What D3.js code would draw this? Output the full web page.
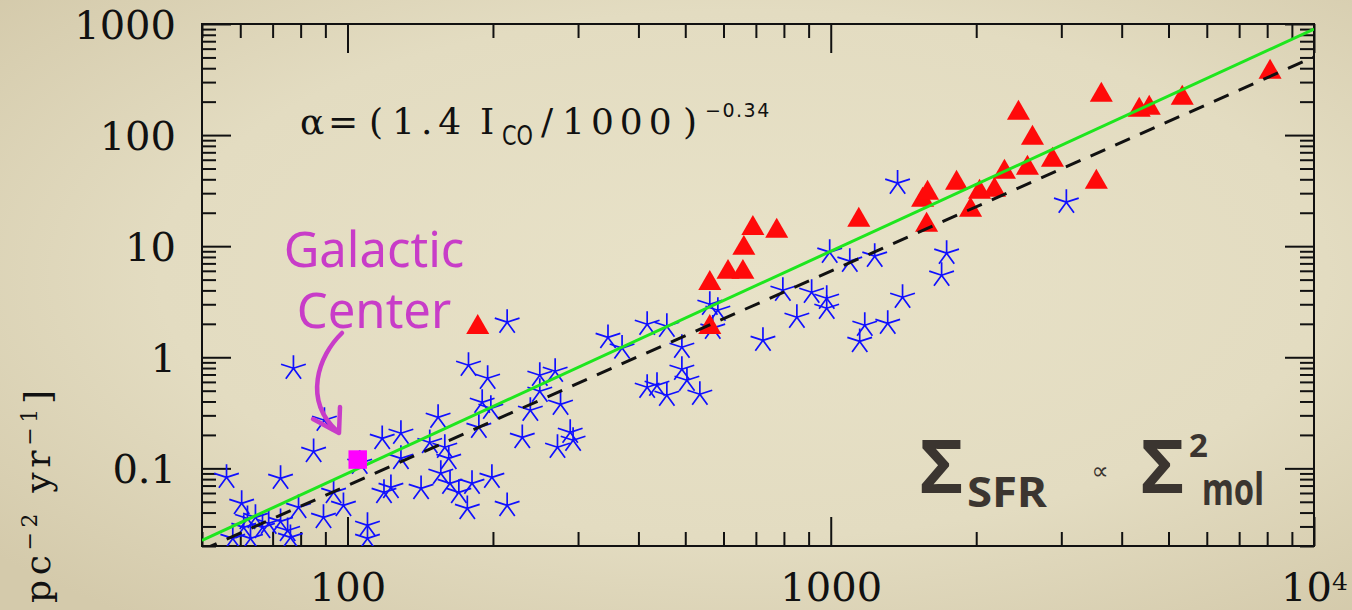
<!DOCTYPE html>
<html>
<head>
<meta charset="utf-8">
<script src="https://cdn.jsdelivr.net/npm/d3@7"></script>
<style>
  html, body { margin: 0; padding: 0; background: #e2dbbf; }
  svg { display: block; }
</style>
</head>
<body>
<svg id="chart" width="1352" height="610"></svg>
<script>
// Molecular gas surface density (x) and star-formation surface density (y)
// for the resolved-region sample (blue asterisks).
const starGas = [77.3, 89.6, 85.1, 56.2, 72.7, 60.4, 62.1, 64.5, 66.7, 68.7,
  72.7, 75.2, 63.0, 57.9, 79.2, 76.2, 61.0, 89.2, 93.6, 98.1,
  110, 110, 106, 118, 129, 129, 119, 123, 142, 154,
  148, 159, 162, 156, 163, 170, 177, 214, 181, 199,
  214, 178, 195, 190, 198, 187, 230, 250, 269, 250,
  239, 276, 272, 289, 293, 346, 370, 417, 458, 492,
  492, 417, 437, 458, 504, 536, 562, 584, 570, 796,
  913, 981, 981, 851, 724, 995, 1095, 1233, 1176, 1312,
  1148, 1408, 1375, 1696, 1737, 3073];
const starSfr = [0.796, 0.271, 0.142, 0.083, 0.0813, 0.0484, 0.0354, 0.0362, 0.0294, 0.032,
  0.0333, 0.0276, 0.0234, 0.0234, 0.0445, 0.0239, 0.0294, 0.0362, 0.0608, 0.0464,
  0.0307, 0.0234, 0.111, 0.186, 0.207, 0.123, 0.0608, 0.0674, 0.066, 0.288,
  0.171, 0.155, 0.123, 0.0902, 0.0733, 0.0608, 0.0436, 0.0464, 0.0733, 0.083,
  2.07, 0.847, 0.647, 0.393, 0.347, 0.234, 0.19, 0.688, 0.748, 0.494,
  0.333, 0.377, 0.155, 0.211, 0.179, 1.51, 1.21, 1.98, 1.9, 1.23,
  0.78, 0.537, 0.559, 0.455, 0.621, 0.464, 3.0, 2.65, 1.83, 4.01,
  3.85, 3.4, 2.76, 2.29, 1.42, 8.83, 7.33, 8.13, 1.94, 2.02,
  1.39, 3.47, 36.95, 5.48, 8.65, 24.9];

// Starburst / nuclear sample (red triangles).
const triGas = [186, 562, 562, 613, 658, 661, 690, 773, 1143, 1549,
  1586, 1579, 1821, 1947, 2032, 2182, 2288, 2553, 2446, 2615,
  2876, 3545, 3630, 4349, 4561, 5338, 8111];
const triSfr = [1.86, 4.64, 1.86, 5.83, 5.83, 9.59, 14.5, 13.65, 17.15, 25.96,
  30.0, 15.46, 36.95, 21.1, 30.65, 31.95, 46.4, 50.45, 157.8, 94.0,
  59.55, 37.7, 229.3, 168, 175.1, 215.4, 369.5];

// Galactic Center (magenta square).
const gcGas = [105];
const gcSfr = [0.12];

// Relations drawn across the panel, given by their end points.
const quadraticLine = [[50, 0.0225], [10000, 900]];   // Σ_SFR ∝ Σ_mol^2
const fitLine = [[50, 0.0184], [10000, 505]];         // best fit (dashed)

// Axis ticks and labels.
const xTickValues = [100, 1000, 10000];
const xTickLabels = ["100", "1000", "10^4"];
const yTickValues = [0.1, 1, 10, 100, 1000];
const yTickLabels = ["0.1", "1", "10", "100", "1000"];

const W = 1352, H = 610;
const P = { left: 202, right: 1314, top: 24, bottom: 546 };

const x = d3.scaleLog().domain([50, 10000]).range([P.left, P.right]);
const y = d3.scaleLog().domain([0.02, 1000]).range([P.bottom, P.top]);

const svg = d3.select("#chart");
const defs = svg.append("defs");

// paper-coloured background, slightly darker toward the edges
const grad = defs.append("radialGradient").attr("id", "paper")
  .attr("cx", "55%").attr("cy", "45%").attr("r", "72%");
grad.append("stop").attr("offset", "0%").attr("stop-color", "#e8e2c8");
grad.append("stop").attr("offset", "60%").attr("stop-color", "#e3dcc1");
grad.append("stop").attr("offset", "100%").attr("stop-color", "#d4caab");
svg.append("rect").attr("width", W).attr("height", H).attr("fill", "url(#paper)");

defs.append("clipPath").attr("id", "plotClip")
  .append("rect")
  .attr("x", P.left).attr("y", P.top)
  .attr("width", P.right - P.left).attr("height", P.bottom - P.top);

// ---- axes: inward ticks on all four sides ----
const isDecade = v => Math.abs(Math.log10(v) - Math.round(Math.log10(v))) < 1e-9;
const xMinor = x.ticks().filter(v => !isDecade(v));
const yMinor = y.ticks().filter(v => !isDecade(v));
const xMajor = x.ticks().filter(isDecade);
const yMajor = y.ticks().filter(isDecade);

function addAxis(gen, transform) {
  const g = svg.append("g").attr("transform", transform).call(gen);
  g.select(".domain").remove();
  g.selectAll(".tick line").attr("stroke", "#111").attr("stroke-width", 2);
  return g;
}

const MINOR = 14, MAJOR = 29;
const none = () => "";

// bottom
addAxis(d3.axisBottom(x).tickValues(xMinor).tickSize(-MINOR).tickFormat(none), `translate(0,${P.bottom})`);
const xAxisG = addAxis(
  d3.axisBottom(x).tickValues(xTickValues).tickSize(-MAJOR).tickPadding(27)
    .tickFormat((d, i) => xTickLabels[i]),
  `translate(0,${P.bottom})`);
// top
addAxis(d3.axisTop(x).tickValues(xMinor).tickSize(-MINOR).tickFormat(none), `translate(0,${P.top})`);
addAxis(d3.axisTop(x).tickValues(xMajor).tickSize(-MAJOR).tickFormat(none), `translate(0,${P.top})`);
// left
addAxis(d3.axisLeft(y).tickValues(yMinor).tickSize(-MINOR).tickFormat(none), `translate(${P.left},0)`);
const yAxisG = addAxis(
  d3.axisLeft(y).tickValues(yTickValues).tickSize(-MAJOR).tickPadding(26)
    .tickFormat((d, i) => yTickLabels[i]),
  `translate(${P.left},0)`);
// right
addAxis(d3.axisRight(y).tickValues(yMinor).tickSize(-MINOR).tickFormat(none), `translate(${P.right},0)`);
addAxis(d3.axisRight(y).tickValues(yMajor).tickSize(-MAJOR).tickFormat(none), `translate(${P.right},0)`);

[xAxisG, yAxisG].forEach(g => g.attr("font-family", "DejaVu Serif").attr("font-size", 40));
xAxisG.selectAll(".tick text").attr("fill", "#111").each(function (d, i) {
  const s = xTickLabels[i];
  if (s.includes("^")) {
    const [base, exp] = s.split("^");
    const t = d3.select(this).text(base);
    t.append("tspan").text(exp).attr("font-size", 25).attr("dy", -11);
  }
});
yAxisG.selectAll(".tick text").attr("fill", "#111").attr("dy", "0.36em");

// frame
svg.append("rect")
  .attr("x", P.left).attr("y", P.top)
  .attr("width", P.right - P.left).attr("height", P.bottom - P.top)
  .attr("fill", "none").attr("stroke", "#111").attr("stroke-width", 2);

// ---- data marks ----
const plot = svg.append("g").attr("clip-path", "url(#plotClip)");

// five-armed asterisk
const asterisk5 = {
  draw(ctx, size) {
    const r = Math.sqrt(size);
    for (let k = 0; k < 5; k++) {
      const a = -Math.PI / 2 + k * 2 * Math.PI / 5;
      ctx.moveTo(0, 0);
      ctx.lineTo(r * Math.cos(a), r * Math.sin(a));
    }
  }
};

const stars = starGas.map((g, i) => ({ g, s: starSfr[i] }));
plot.selectAll("path.star").data(stars).join("path")
  .attr("class", "star")
  .attr("transform", d => `translate(${x(d.g)},${y(d.s)})`)
  .attr("d", d3.symbol().type(asterisk5).size(169))
  .attr("fill", "none").attr("stroke", "#1010ff").attr("stroke-width", 1.7);

const tris = triGas.map((g, i) => ({ g, s: triSfr[i] }));
plot.selectAll("path.tri").data(tris).join("path")
  .attr("class", "tri")
  .attr("transform", d => `translate(${x(d.g)},${y(d.s)})`)
  .attr("d", d3.symbol().type(d3.symbolTriangle).size(230))
  .attr("fill", "#ff0a0a");

const line = d3.line().x(d => x(d[0])).y(d => y(d[1]));
plot.append("path").datum(quadraticLine).attr("d", line)
  .attr("fill", "none").attr("stroke", "#1ee61e").attr("stroke-width", 3);
plot.append("path").datum(fitLine).attr("d", line)
  .attr("fill", "none").attr("stroke", "#111").attr("stroke-width", 3)
  .attr("stroke-dasharray", "16,11");

const gc = gcGas.map((g, i) => ({ g, s: gcSfr[i] }));
plot.selectAll("path.gc").data(gc).join("path")
  .attr("class", "gc")
  .attr("transform", d => `translate(${x(d.g)},${y(d.s)})`)
  .attr("d", d3.symbol().type(d3.symbolSquare).size(342))
  .attr("fill", "#ff00ff");

// ---- annotations ----
// conversion factor
const alpha = svg.append("text").attr("font-family", "DejaVu Serif")
  .attr("font-size", 36).attr("fill", "#111").attr("y", 134);
alpha.append("tspan").attr("x", 300).text("α");
alpha.append("tspan").attr("x", 328).text("=");
alpha.append("tspan").attr("x", 369).text("(");
alpha.append("tspan").attr("x", 392).attr("letter-spacing", 6).text("1.4");
alpha.append("tspan").attr("x", 480).text("I");
alpha.append("tspan").attr("x", 502).attr("y", 145).attr("font-family", "DejaVu Sans")
  .attr("font-size", 27).attr("textLength", 31).attr("lengthAdjust", "spacingAndGlyphs").text("CO");
alpha.append("tspan").attr("x", 541).attr("y", 134).text("/");
alpha.append("tspan").attr("x", 562).attr("letter-spacing", 6).text("1000");
alpha.append("tspan").attr("x", 683).text(")");
alpha.append("tspan").attr("x", 705).attr("y", 117).attr("font-family", "DejaVu Sans")
  .attr("font-size", 19).attr("letter-spacing", 1.5).text("−0.34");

// Galactic Center note and arrow
const magenta = "#c83cc8";
svg.append("text").attr("x", 374).attr("y", 267).attr("text-anchor", "middle")
  .attr("font-family", "Noto Sans").attr("font-size", 49).attr("fill", magenta).text("Galactic");
svg.append("text").attr("x", 374).attr("y", 328).attr("text-anchor", "middle")
  .attr("font-family", "Noto Sans").attr("font-size", 49).attr("fill", magenta).text("Center");
svg.append("path").attr("d", "M342,333 C318,356 303,400 337,431")
  .attr("fill", "none").attr("stroke", magenta).attr("stroke-width", 4.5).attr("stroke-linecap", "round");
svg.append("path").attr("d", "M313,419 L339,433 L340,407")
  .attr("fill", "none").attr("stroke", magenta).attr("stroke-width", 4.5)
  .attr("stroke-linejoin", "round").attr("stroke-linecap", "round");

// scaling relation
const ink = "#3b3530";
const rel = svg.append("g").attr("font-family", "Noto Sans").attr("font-weight", 700).attr("fill", ink);
rel.append("text").attr("x", 920).attr("y", 493).attr("font-size", 74).text("Σ");
rel.append("text").attr("x", 967).attr("y", 507).attr("font-size", 42)
  .attr("textLength", 80).attr("lengthAdjust", "spacingAndGlyphs").text("SFR");
rel.append("text").attr("x", 1100).attr("y", 479).attr("text-anchor", "middle")
  .attr("font-family", "DejaVu Sans").attr("font-weight", 400).attr("font-size", 24).text("∝");
rel.append("text").attr("x", 1141).attr("y", 493).attr("font-size", 74).text("Σ");
rel.append("text").attr("x", 1189).attr("y", 457).attr("font-size", 33).text("2");
rel.append("text").attr("x", 1202).attr("y", 505).attr("font-size", 44)
  .attr("textLength", 62).attr("lengthAdjust", "spacingAndGlyphs").text("mol");

// y-axis title, units part
const ylab = svg.append("text")
  .attr("transform", "translate(50,390) rotate(-90)")
  .attr("text-anchor", "end")
  .attr("font-family", "DejaVu Serif").attr("font-size", 36).attr("fill", "#111")
  .attr("textLength", 213).attr("lengthAdjust", "spacing");
ylab.append("tspan").text("pc");
ylab.append("tspan").attr("font-size", 22).attr("dy", -13).text("−2");
ylab.append("tspan").attr("dy", 13).text(" yr");
ylab.append("tspan").attr("font-size", 22).attr("dy", -13).text("−1");
ylab.append("tspan").attr("dy", 13).text("]");
</script>
</body>
</html>
